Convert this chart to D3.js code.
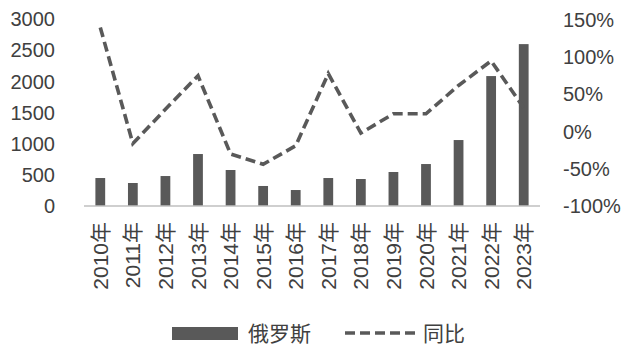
<!DOCTYPE html>
<html><head><meta charset="utf-8">
<script src="https://cdn.jsdelivr.net/npm/d3@7"></script>
<style>body{margin:0;background:#fff}svg{display:block}</style>
</head><body>
<svg id="c" width="629" height="351"></svg>
<script>
const categories = ["2010年","2011年","2012年","2013年","2014年","2015年","2016年","2017年","2018年","2019年","2020年","2021年","2022年","2023年"];
const russia = [450,370,482,836,579,322,257,450,434,547,675,1061,2090,2604];
const yoy = [140,-16,30,75,-30,-44,-19,78,-2,24,24,62,95,32];
const leftTicks = [0,500,1000,1500,2000,2500,3000];
const rightTicks = [-100,-50,0,50,100,150];
const seriesNames = ["俄罗斯","同比"];

const svg = d3.select("#c");
const font = "'Liberation Sans','Noto Sans CJK SC',Arial,sans-serif";
const textColor = "#404040";
const dark = "#595959";

const x = d3.scaleBand().domain(categories).range([84, 540]).paddingInner(0.7).paddingOuter(0.35);
const yL = d3.scaleLinear().domain([0, 3000]).range([206, 19.5]);
const yR = d3.scaleLinear().domain([-100, 150]).range([206, 20]);

// bars
svg.append("g").selectAll("rect").data(russia).join("rect")
  .attr("x", (d,i) => x(categories[i]))
  .attr("width", x.bandwidth())
  .attr("y", d => yL(d))
  .attr("height", d => yL(0) - yL(d))
  .attr("fill", dark);

// baseline axis
svg.append("line").attr("x1", 84).attr("x2", 540).attr("y1", yL(0)).attr("y2", yL(0))
  .attr("stroke", "#bfbfbf").attr("stroke-width", 1.5);

// left axis labels
const gl = svg.append("g").attr("transform", "translate(55,0)")
  .call(d3.axisLeft(yL).tickValues(leftTicks).tickSize(0).tickPadding(0).tickFormat(d3.format("d")));
gl.select(".domain").remove();
gl.selectAll("text").attr("font-family", font).attr("font-size", 20).attr("fill", textColor);

// right axis labels
const gr = svg.append("g").attr("transform", "translate(563,0)")
  .call(d3.axisRight(yR).tickValues(rightTicks).tickSize(0).tickPadding(0).tickFormat(d => d + "%"));
gr.select(".domain").remove();
gr.selectAll("text").attr("font-family", font).attr("font-size", 20).attr("fill", textColor);

// x labels
const xc = c => x(c) + x.bandwidth() / 2;
svg.append("g").selectAll("text").data(categories).join("text")
  .attr("transform", d => `translate(${xc(d) + 7.5},222) rotate(-90)`)
  .attr("text-anchor", "end")
  .attr("font-family", font).attr("font-size", 21).attr("fill", textColor)
  .text(d => d);

// line
const line = d3.line().x((d,i) => xc(categories[i])).y(d => yR(d));
svg.append("path").datum(yoy).attr("d", line)
  .attr("fill", "none").attr("stroke", dark).attr("stroke-width", 3.6)
  .attr("stroke-dasharray", "10,5");

// legend
const lg = svg.append("g");
lg.append("rect").attr("x", 172).attr("y", 327).attr("width", 66).attr("height", 13).attr("fill", dark);
lg.append("text").attr("x", 248).attr("y", 333).attr("dominant-baseline", "central")
  .attr("font-family", font).attr("font-size", 21).attr("fill", textColor).text(seriesNames[0]);
lg.append("line").attr("x1", 345).attr("x2", 417).attr("y1", 333).attr("y2", 333)
  .attr("stroke", dark).attr("stroke-width", 3.6).attr("stroke-dasharray", "10,5");
lg.append("text").attr("x", 423).attr("y", 333).attr("dominant-baseline", "central")
  .attr("font-family", font).attr("font-size", 21).attr("fill", textColor).text(seriesNames[1]);
</script>
</body></html>
